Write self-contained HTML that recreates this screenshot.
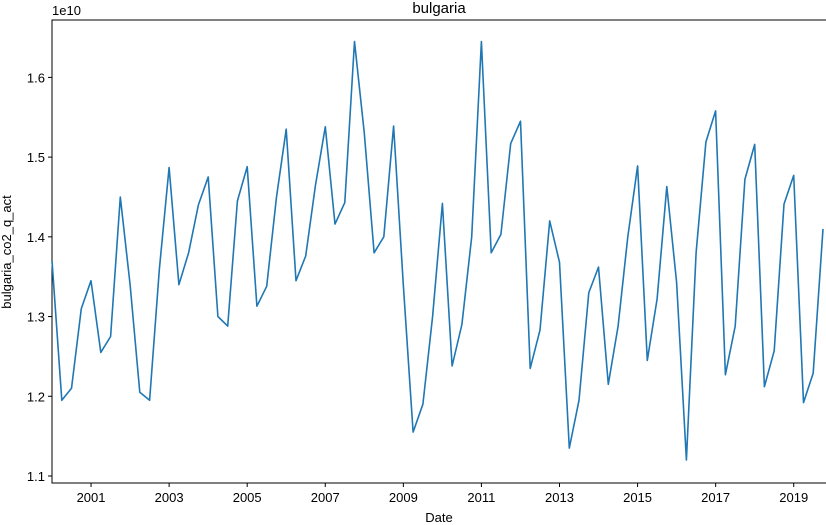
<!DOCTYPE html>
<html><head><meta charset="utf-8"><style>
body{margin:0;background:#fff;}
svg{display:block;font-family:"Liberation Sans","DejaVu Sans",sans-serif;}
</style></head><body>
<svg id="chart" width="826" height="525"></svg>
<script>
const startYear = 2000;
const values = [1.37,1.195,1.21,1.31,1.345,1.255,1.275,1.45,1.34,1.205,
1.195,1.36,1.487,1.34,1.38,1.44,1.475,1.30,1.288,1.445,
1.488,1.313,1.338,1.45,1.535,1.345,1.376,1.465,1.538,1.416,
1.443,1.645,1.53,1.38,1.40,1.539,1.34,1.155,1.19,1.30,
1.442,1.238,1.29,1.40,1.645,1.38,1.403,1.517,1.545,1.235,
1.283,1.42,1.368,1.135,1.195,1.33,1.362,1.215,1.288,1.40,
1.489,1.245,1.322,1.463,1.343,1.12,1.38,1.519,1.558,1.227,
1.288,1.472,1.516,1.212,1.257,1.441,1.477,1.192,1.229,1.41];
const xTicks = [2001,2003,2005,2007,2009,2011,2013,2015,2017,2019];
const yTicks = [1.1,1.2,1.3,1.4,1.5,1.6];
const NS="http://www.w3.org/2000/svg";
const svg=document.getElementById('chart');
const L=52,R=823,T=20,B=483;
const xMin=2000,xMax=2019.75,yMin=1.0912,yMax=1.672;
const xs=v=>L+(v-xMin)/(xMax-xMin)*(R-L);
const ys=v=>B-(v-yMin)/(yMax-yMin)*(B-T);
function el(t,a){const e=document.createElementNS(NS,t);for(const k in a)e.setAttribute(k,a[k]);svg.appendChild(e);return e;}
const frame=el('rect',{x:L,y:T,width:826-L+2,height:B-T,fill:'none',stroke:'#000','stroke-width':1});


xTicks.forEach(t=>{const x=xs(t);
const l=el('line',{x1:x,x2:x,y1:B,y2:B+4,stroke:'#000'});


const tx=el('text',{x:x,y:B+19,'font-size':13,'text-anchor':'middle'});tx.textContent=t;

});
yTicks.forEach(t=>{const y=ys(t);
const l=el('line',{x1:L-4,x2:L,y1:y,y2:y,stroke:'#000'});


const tx=el('text',{x:L-7,y:y+5,'font-size':13,'text-anchor':'end'});tx.textContent=t.toFixed(1);

});
const pts=values.map((v,i)=>xs(startYear+i*0.25).toFixed(1)+','+ys(v).toFixed(1)).join(' ');
const line=el('polyline',{points:pts,fill:'none',stroke:'#1f77b4','stroke-width':1.6,'stroke-linejoin':'round'});


const t1=el('text',{x:439,y:13,'font-size':15,'text-anchor':'middle'});t1.textContent='bulgaria';


const t2=el('text',{x:439,y:522,'font-size':13,'text-anchor':'middle'});t2.textContent='Date';


const t3=el('text',{x:0,y:0,'font-size':13,'text-anchor':'middle',transform:'translate(11,252) rotate(-90)'});t3.textContent='bulgaria_co2_q_act';


const t4=el('text',{x:52,y:15,'font-size':13});t4.textContent='1e10';


</script>
</body></html>
